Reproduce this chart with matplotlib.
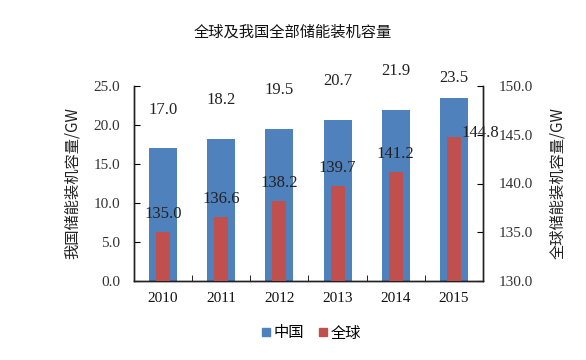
import matplotlib
matplotlib.use("Agg")
import matplotlib.pyplot as plt
import numpy as np
from matplotlib.lines import Line2D

years = ["2010", "2011", "2012", "2013", "2014", "2015"]
china = [17.0, 18.2, 19.5, 20.7, 21.9, 23.5]
world = [135.0, 136.6, 138.2, 139.7, 141.2, 144.8]
left_ticks = [0, 5, 10, 15, 20, 25]
right_ticks = [130, 135, 140, 145, 150]

blue = "#4F81BD"
red = "#C0504D"
cjk = ["Noto Sans CJK SC", "DejaVu Sans"]
serif = "Liberation Serif"

fig = plt.figure(figsize=(5.86, 3.6), dpi=100)
ax = fig.add_axes([134/586, 1-281/360, (483-134)/586, (281-86)/360])
ax2 = ax.twinx()

x = np.arange(len(years))
ax.bar(x, china, width=0.48, color=blue, zorder=2)
ax2.bar(x, world, width=0.24, color=red, bottom=0, zorder=3)

ax.set_xlim(-0.5, len(years)-0.5)
ax.set_ylim(0, 25)
ax2.set_ylim(130, 150)
ax.set_yticks(left_ticks)
ax.set_yticklabels([f"{v:.1f}" for v in left_ticks], fontfamily=serif, fontsize=11, color="#333333")
ax2.set_yticks(right_ticks)
ax2.set_yticklabels([f"{v:.1f}" for v in right_ticks], fontfamily=serif, fontsize=11, color="#333333")
ax.set_xticks(x)
ax.set_xticklabels(years, fontfamily=serif, fontsize=11, color="#111111")
ax.set_xticks(np.arange(len(years)+1)-0.5, minor=True)
ax.tick_params(axis="x", which="major", length=0, pad=8)
ax.tick_params(axis="x", which="minor", direction="in", length=4)
ax.tick_params(axis="y", direction="in", length=4, pad=10)
ax2.tick_params(axis="y", direction="in", length=4, pad=11)

for a in (ax, ax2):
    a.spines["top"].set_visible(False)
    for s in ("left", "right", "bottom"):
        a.spines[s].set_color("#222222")
        a.spines[s].set_linewidth(1.0)

for i, v in enumerate(china):
    off = 14 if i == len(china)-1 else 28
    ax.annotate(f"{v:.1f}", (x[i], v), xytext=(0, off), textcoords="offset points",
                ha="center", va="center", fontfamily=serif, fontsize=12, color="#222222")
for i, v in enumerate(world):
    if i == len(world)-1:
        xy_off = (19, 3)
    else:
        xy_off = (0, 13)
    ax2.annotate(f"{v:.1f}", (x[i], v), xytext=xy_off, textcoords="offset points",
                 ha="center", va="center", fontfamily=serif, fontsize=12, color="#222222", zorder=5)

ax.set_ylabel("我国储能装机容量/GW", fontfamily=cjk, fontsize=11, color="#222222", labelpad=9)
ax2.set_ylabel("全球储能装机容量/GW", fontfamily=cjk, fontsize=11, color="#222222", labelpad=12)

fig.text(0.5, 1-32/360, "全球及我国全部储能装机容量", ha="center", va="center",
         fontfamily=cjk, fontsize=11, color="#111111")

handles = [Line2D([], [], marker="s", linestyle="none", color=blue, markersize=6),
           Line2D([], [], marker="s", linestyle="none", color=red, markersize=6)]
fig.legend(handles, ["中国", "全球"], loc="center", bbox_to_anchor=(0.53, 1-333/360), ncol=2,
           frameon=False, prop={"family": cjk, "size": 11}, handletextpad=0.1,
           handlelength=0.8, columnspacing=0.8)

fig.savefig("out.png", dpi=100, facecolor="white")
